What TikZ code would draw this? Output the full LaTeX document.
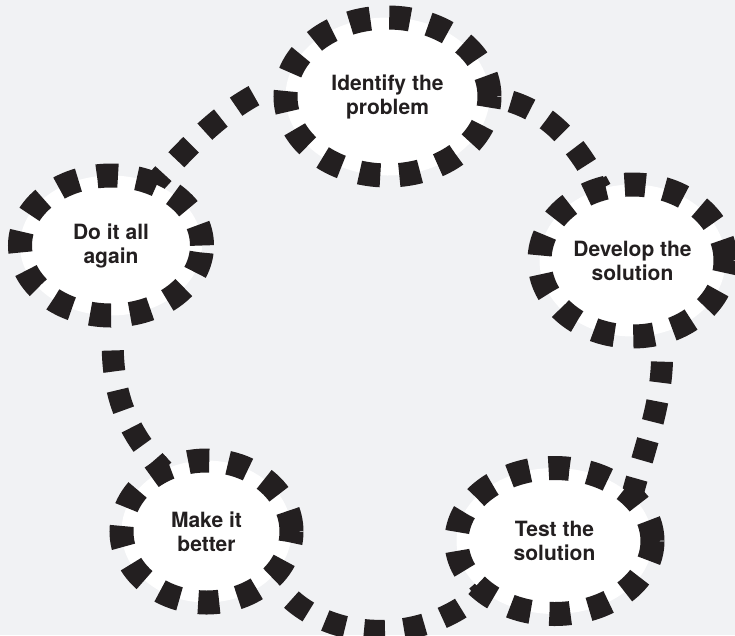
\documentclass[tikz,border=0pt]{standalone}
\usepackage{fontspec}
\setmainfont{TeX Gyre Heros}
\usetikzlibrary{shapes.geometric}
\definecolor{bgc}{HTML}{F1F2F4}
\definecolor{ink}{HTML}{231F20}
\pgfdeclarelayer{bglayer}
\pgfdeclarelayer{connlayer}
\pgfsetlayers{bglayer,connlayer,main}
\begin{document}
\begin{tikzpicture}[x=1pt,y=-1pt,
  stage/.style={ellipse, draw=ink, fill=white, line width=24pt,
    dash pattern=on 21pt off 19pt, inner sep=0pt, outer sep=0pt,
    align=center, font=\bfseries\fontsize{21}{24}\selectfont, text=ink},
  link/.style={draw=ink, line width=22pt, dash pattern=on 21pt off 19pt, dash phase=21pt}]
\useasboundingbox (0,0) rectangle (735,635);
\begin{pgfonlayer}{bglayer}
  \fill[bgc] (0,0) rectangle (735,635);
\end{pgfonlayer}

\node[stage, minimum width=204pt, minimum height=158pt] (ident) at (387.5,96.5) {Identify the\\problem};
\node[stage, minimum width=182pt, minimum height=140pt] (again) at (111,245.5) {Do it all\\again};
\node[stage, minimum width=186pt, minimum height=152pt] (dev) at (632.5,260.5) {Develop the\\solution};
\node[stage, minimum width=196pt, minimum height=146pt] (test) at (554.5,541) {Test the\\solution};
\node[stage, minimum width=170pt, minimum height=142pt] (make) at (206.5,531.5) {Make it\\better};

\begin{pgfonlayer}{connlayer}
  \draw[link, shorten <=19pt] (ident.170) to[out=205,in=48] (again.55);
  \draw[link, shorten <=3pt] (ident.0) to[out=350,in=118] (dev.114);
  \draw[link, shorten <=10pt] (dev.292) to[out=272,in=75] (test.30);
  \draw[link, shorten <=11pt] (make.-35) to[out=308,in=223] (test.215);
  \draw[link, shorten <=16pt] (again.272) to[out=268,in=135] (make.125);
\end{pgfonlayer}
\end{tikzpicture}
\end{document}
